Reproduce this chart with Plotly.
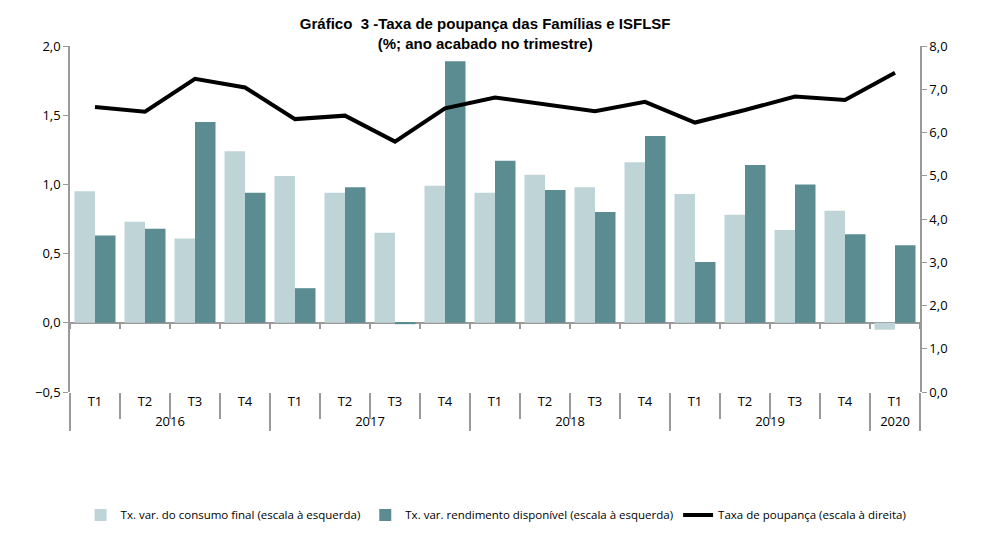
import plotly.graph_objects as go

# trimestres e anos (eixo x em dois níveis)
anos = ['2016'] * 4 + ['2017'] * 4 + ['2018'] * 4 + ['2019'] * 4 + ['2020']
trimestres = ['T1', 'T2', 'T3', 'T4'] * 4 + ['T1']

# séries
consumo_final = [0.95, 0.73, 0.61, 1.24, 1.06, 0.94, 0.65, 0.99,
                 0.94, 1.07, 0.98, 1.16, 0.93, 0.78, 0.67, 0.81, -0.05]
rendimento_disp = [0.63, 0.68, 1.45, 0.94, 0.25, 0.98, -0.01, 1.89,
                   1.17, 0.96, 0.80, 1.35, 0.44, 1.14, 1.00, 0.64, 0.56]
taxa_poupanca = [6.59, 6.48, 7.24, 7.04, 6.31, 6.39, 5.79, 6.56,
                 6.81, 6.66, 6.49, 6.71, 6.23, 6.52, 6.83, 6.75, 7.38]

x = [anos, trimestres]
cinza = '#9a9a9a'

fig = go.Figure()

fig.add_trace(go.Bar(
    x=x, y=consumo_final,
    name='Tx. var. do consumo final (escala à esquerda)',
    marker=dict(color='#bed4d7', line=dict(width=0)),
))
fig.add_trace(go.Bar(
    x=x, y=rendimento_disp,
    name='Tx. var. rendimento disponível (escala à esquerda)',
    marker=dict(color='#5b8c92', line=dict(width=0)),
))
fig.add_trace(go.Scatter(
    x=x, y=taxa_poupanca,
    name='Taxa de poupança (escala à direita)',
    mode='lines',
    line=dict(color='black', width=4),
    yaxis='y2',
))
# traço invisível só para desenhar os tiques sobre a linha do zero
fig.add_trace(go.Scatter(
    x=x, y=taxa_poupanca, xaxis='x2', yaxis='y2',
    mode='lines', opacity=0, showlegend=False, hoverinfo='skip',
))

# a página tem 8px de margem no body -> figura 990x532
fig.update_layout(
    width=990, height=532,
    paper_bgcolor='white', plot_bgcolor='white',
    separators=',.',
    margin=dict(l=62, r=78, t=38, b=148),
    barmode='group', bargap=0.18, bargroupgap=0,
    title=dict(
        text='<b>Gráfico  3 -Taxa de poupança das Famílias e ISFLSF<br>(%; ano acabado no trimestre)</b>',
        x=0.482, xref='container', xanchor='center',
        y=0.960, yref='container', yanchor='middle',
        font=dict(family='Liberation Sans', size=15, color='black'),
    ),
    font=dict(family='Open Sans', size=12, color='black'),
    xaxis=dict(
        type='multicategory',
        showline=False, showgrid=False,
        ticks='outside', ticklen=26, tickcolor=cinza, tickwidth=1.5,
        showdividers=True, dividercolor=cinza, dividerwidth=1.5,
        tickfont=dict(family='Open Sans', size=13),
    ),
    xaxis2=dict(
        type='multicategory', overlaying='x', matches='x',
        anchor='free', position=0.2,
        showline=False, showgrid=False, showticklabels=False,
        showdividers=False,
        ticks='outside', ticklen=5, tickcolor=cinza, tickwidth=1.5,
    ),
    yaxis=dict(
        range=[-0.5, 2.0], dtick=0.5, tickformat='.1f',
        showgrid=False, showline=True, linecolor=cinza, linewidth=1.5,
        ticks='outside', ticklen=5, tickcolor=cinza,
        zeroline=True, zerolinecolor=cinza, zerolinewidth=1.5,
        tickfont=dict(size=13),
    ),
    yaxis2=dict(
        range=[0, 8], dtick=1, tickformat='.1f',
        overlaying='y', side='right',
        showgrid=False, showline=True, linecolor=cinza, linewidth=1.5,
        ticks='outside', ticklen=5, tickcolor=cinza, zeroline=False,
        tickfont=dict(size=13),
    ),
    legend=dict(
        orientation='h', x=0.493, xanchor='center', xref='container',
        y=0.047, yref='container', yanchor='middle',
        font=dict(family='Open Sans', size=11.5),
        traceorder='normal', itemwidth=30,
    ),
)

fig.write_html('out.html')
